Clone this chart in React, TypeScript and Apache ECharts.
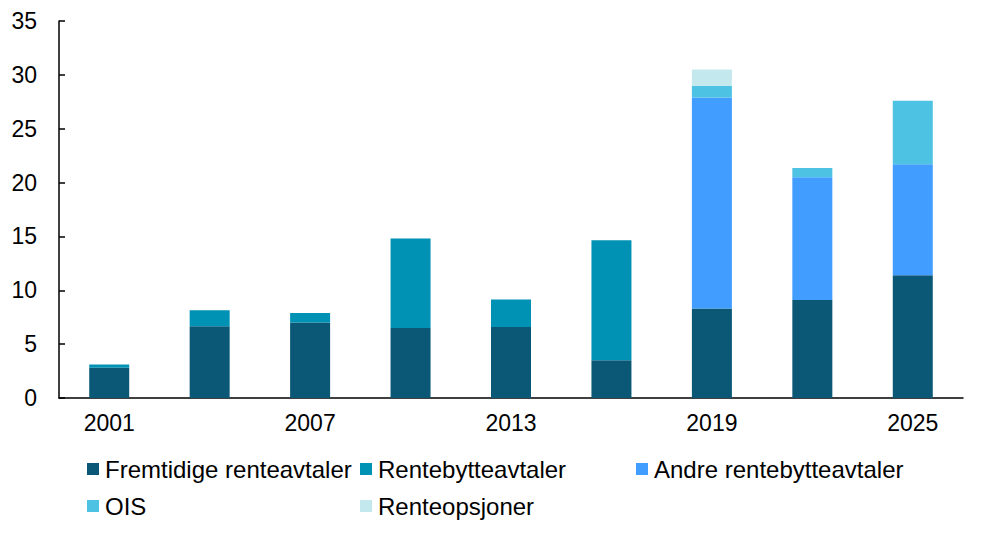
import React, { useEffect, useRef } from "react";
import * as echarts from "echarts";

const categories = ["2001", "2004", "2007", "2010", "2013", "2016", "2019", "2022", "2025"];
const fremtidige = [2.8, 6.65, 7.0, 6.5, 6.6, 3.5, 8.3, 9.1, 11.4];
const rentebytte = [0.3, 1.5, 0.9, 8.3, 2.55, 11.15, null, null, null];
const andre = [null, null, null, null, null, null, 19.6, 11.4, 10.3];
const ois = [null, null, null, null, null, null, 1.1, 0.85, 5.9];
const renteopsjoner = [null, null, null, null, null, null, 1.5, null, null];

const seriesNames = ["Fremtidige renteavtaler", "Rentebytteavtaler", "Andre rentebytteavtaler", "OIS", "Renteopsjoner"];
const seriesData = [fremtidige, rentebytte, andre, ois, renteopsjoner];
const colors = ["#0b5876", "#0092b4", "#419dff", "#4dc2e3", "#c3e9ee"];
const yTicks = { min: 0, max: 35, interval: 5 };

const FONT = "'Liberation Sans', Arial, sans-serif";

export default function App() {
  const ref = useRef<HTMLDivElement>(null);
  useEffect(() => {
    if (!ref.current) return;
    const chart = echarts.init(ref.current, undefined, { renderer: "svg" });
    const legendPos = [
      { left: 87, top: 457 },
      { left: 360, top: 457 },
      { left: 636, top: 457 },
      { left: 87, top: 494 },
      { left: 360, top: 494 },
    ];
    chart.setOption({
      animation: false,
      color: colors,
      textStyle: { fontFamily: FONT },
      grid: { left: 59, right: 19, top: 21, bottom: 135, containLabel: false },
      legend: seriesNames.map((n, i) => ({
        data: [n],
        left: legendPos[i].left,
        top: legendPos[i].top,
        padding: 0,
        itemWidth: 12,
        itemHeight: 12,
        itemGap: 0,
        icon: "rect",
        selectedMode: false,
        textStyle: { fontSize: 24, color: "#000", fontFamily: FONT, padding: [0, 0, 0, 1] },
      })),
      xAxis: {
        type: "category",
        data: categories,
        axisLine: { lineStyle: { color: "#000", width: 1.5 } },
        axisTick: { show: false },
        axisLabel: { interval: 1, fontSize: 23, color: "#000", margin: 13, fontFamily: FONT },
      },
      yAxis: {
        type: "value",
        min: yTicks.min,
        max: yTicks.max,
        interval: yTicks.interval,
        splitLine: { show: false },
        axisLine: { show: true, lineStyle: { color: "#000", width: 1.5 } },
        axisTick: { show: true, inside: true, length: 6, lineStyle: { color: "#000", width: 1.5 } },
        axisLabel: { fontSize: 23, color: "#000", margin: 22, fontFamily: FONT },
      },
      series: seriesNames.map((n, i) => ({
        name: n,
        type: "bar",
        stack: "total",
        barWidth: 40,
        data: seriesData[i],
        itemStyle: { color: colors[i] },
      })),
    });
    return () => chart.dispose();
  }, []);
  return <div ref={ref} style={{ width: 982, height: 533, position: "absolute", left: 0, top: 0 }} />;
}
